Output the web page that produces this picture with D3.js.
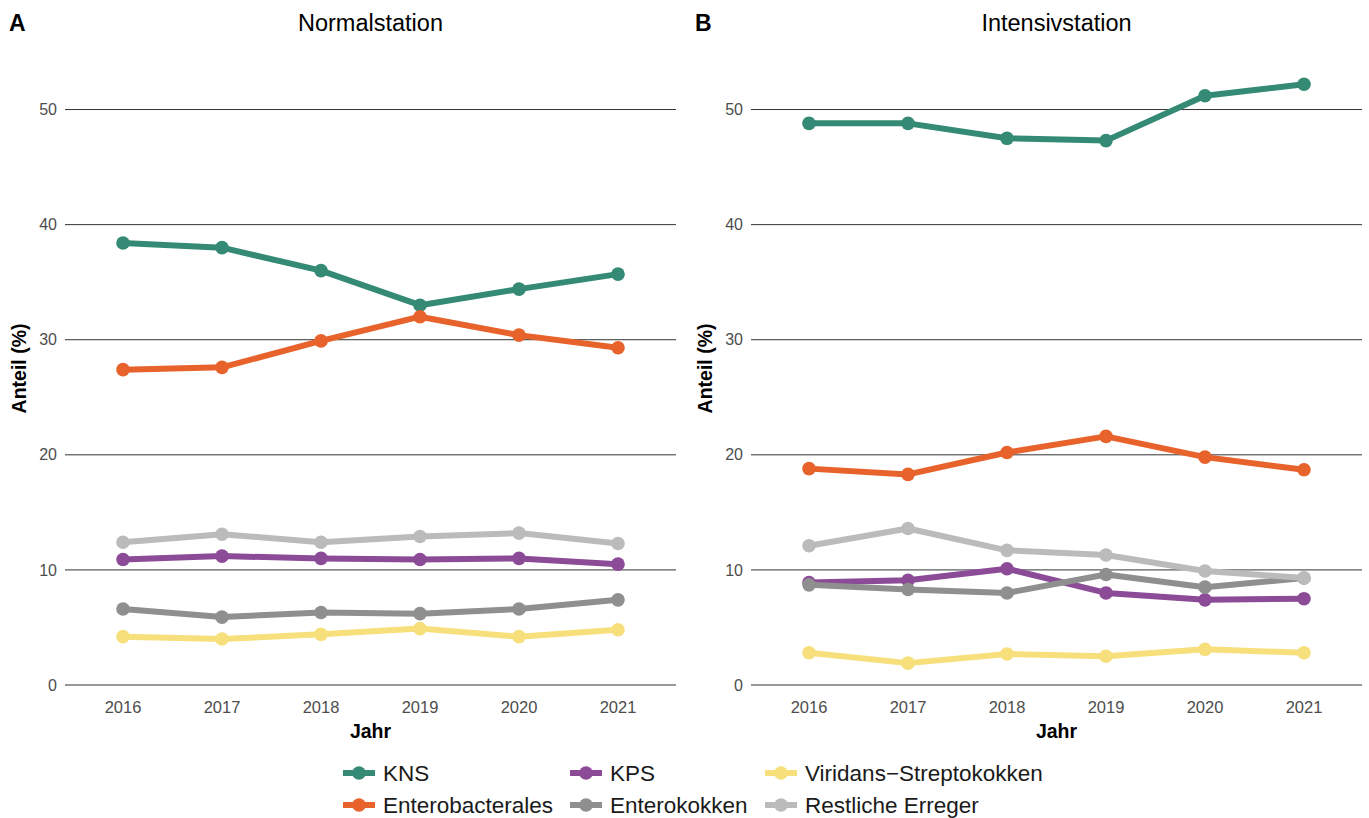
<!DOCTYPE html>
<html>
<head>
<meta charset="utf-8">
<script src="https://cdn.jsdelivr.net/npm/d3@7"></script>
<style>
  body { margin: 0; background: #fff; }
  svg text { font-family: "Liberation Sans", Arial, sans-serif; }
</style>
</head>
<body>
<svg id="chart" width="1369" height="818"></svg>
<script>
// data
const years = [2016, 2017, 2018, 2019, 2020, 2021];
const yTicks = [0, 10, 20, 30, 40, 50];
const seriesNames = ["KNS", "Enterobacterales", "KPS", "Enterokokken", "Viridans\u2212Streptokokken", "Restliche Erreger"];
const seriesColors = ["#348a74", "#e8622c", "#8b4b97", "#8f8f8f", "#f7df7c", "#bbbbbb"];

const normalKNS = [38.4, 38.0, 36.0, 33.0, 34.4, 35.7];
const normalEntero = [27.4, 27.6, 29.9, 32.0, 30.4, 29.3];
const normalKPS = [10.9, 11.2, 11.0, 10.9, 11.0, 10.5];
const normalEnterokokken = [6.6, 5.9, 6.3, 6.2, 6.6, 7.4];
const normalViridans = [4.2, 4.0, 4.4, 4.9, 4.2, 4.8];
const normalRest = [12.4, 13.1, 12.4, 12.9, 13.2, 12.3];

const icuKNS = [48.8, 48.8, 47.5, 47.3, 51.2, 52.2];
const icuEntero = [18.8, 18.3, 20.2, 21.6, 19.8, 18.7];
const icuKPS = [8.9, 9.1, 10.1, 8.0, 7.4, 7.5];
const icuEnterokokken = [8.7, 8.3, 8.0, 9.6, 8.5, 9.3];
const icuViridans = [2.8, 1.9, 2.7, 2.5, 3.1, 2.8];
const icuRest = [12.1, 13.6, 11.7, 11.3, 9.9, 9.3];

const panels = [
  { tag: "A", title: "Normalstation", left: 65, series: [normalKNS, normalEntero, normalKPS, normalEnterokokken, normalViridans, normalRest] },
  { tag: "B", title: "Intensivstation", left: 751, series: [icuKNS, icuEntero, icuKPS, icuEnterokokken, icuViridans, icuRest] }
];

const svg = d3.select("#chart");
const plotW = 611, plotTop = 52, plotBottom = 685;

panels.forEach(p => {
  const x = d3.scalePoint().domain(years).range([p.left + 58, p.left + plotW - 58]);
  const y = d3.scaleLinear().domain([0, 55]).range([plotBottom, plotTop]);
  const g = svg.append("g");

  // gridlines
  g.selectAll("line.grid").data(yTicks).enter().append("line")
    .attr("x1", p.left).attr("x2", p.left + plotW)
    .attr("y1", d => y(d)).attr("y2", d => y(d))
    .attr("stroke", "#333").attr("stroke-width", 1);

  // y axis labels
  g.selectAll("text.yt").data(yTicks).enter().append("text")
    .attr("x", p.left - 8).attr("y", d => y(d)).attr("dy", "0.35em")
    .attr("text-anchor", "end").attr("font-size", 16).attr("fill", "#4d4d4d")
    .text(d => d);

  // x axis labels
  g.selectAll("text.xt").data(years).enter().append("text")
    .attr("x", d => x(d)).attr("y", plotBottom + 28)
    .attr("text-anchor", "middle").attr("font-size", 16.5).attr("fill", "#4d4d4d")
    .text(d => d);

  // axis titles
  g.append("text").attr("x", p.left + plotW / 2).attr("y", plotBottom + 53)
    .attr("text-anchor", "middle").attr("font-size", 19.5).attr("font-weight", "bold")
    .text("Jahr");
  g.append("text")
    .attr("transform", `translate(${p.left - 39},${(plotTop + plotBottom) / 2}) rotate(-90)`)
    .attr("text-anchor", "middle").attr("font-size", 19.5).attr("font-weight", "bold")
    .text("Anteil (%)");

  // title + tag
  g.append("text").attr("x", p.left + plotW / 2).attr("y", 31)
    .attr("text-anchor", "middle").attr("font-size", 23.5).text(p.title);
  g.append("text").attr("x", p.left - 56).attr("y", 31)
    .attr("font-size", 23).attr("font-weight", "bold").text(p.tag);

  const line = d3.line().x((d, i) => x(years[i])).y(d => y(d));

  p.series.forEach((vals, si) => {
    g.append("path").datum(vals)
      .attr("d", line).attr("fill", "none")
      .attr("stroke", seriesColors[si]).attr("stroke-width", 6)
      .attr("stroke-linejoin", "round");
    g.selectAll(null).data(vals).enter().append("circle")
      .attr("cx", (d, i) => x(years[i])).attr("cy", d => y(d))
      .attr("r", 6.8).attr("fill", seriesColors[si]);
  });
});

// legend
const legCols = [343, 570, 765];
const legRows = [773, 805];
const leg = svg.append("g");
seriesNames.forEach((name, i) => {
  const cx = legCols[Math.floor(i / 2)], cy = legRows[i % 2];
  leg.append("line").attr("x1", cx).attr("x2", cx + 32).attr("y1", cy).attr("y2", cy)
    .attr("stroke", seriesColors[i]).attr("stroke-width", 6);
  leg.append("circle").attr("cx", cx + 16).attr("cy", cy).attr("r", 6.8).attr("fill", seriesColors[i]);
  leg.append("text").attr("x", cx + 40).attr("y", cy).attr("dy", "0.36em")
    .attr("font-size", 22.5).attr("fill", "#1a1a1a").text(name);
});
</script>
</body>
</html>
